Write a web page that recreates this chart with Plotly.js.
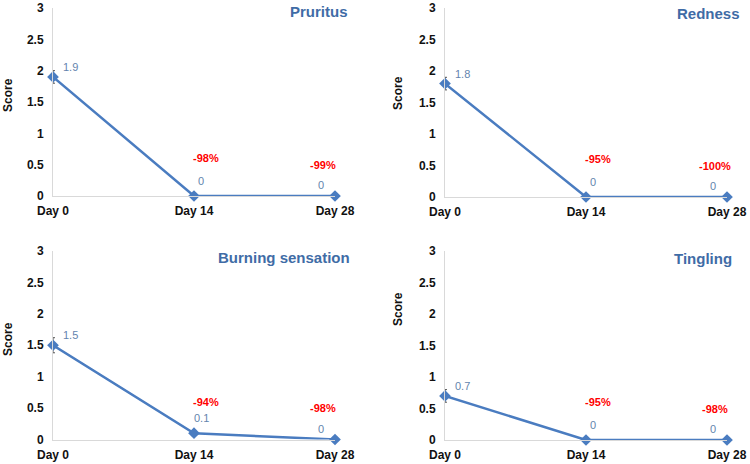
<!DOCTYPE html>
<html><head><meta charset="utf-8">
<script src="https://cdn.plot.ly/plotly-3.0.1.min.js"></script>
<style>html,body{margin:0;padding:0;background:#fff}#c{width:750px;height:464px}</style>
</head><body><div id="c"></div>
<script>
const days = ['Day 0', 'Day 14', 'Day 28'];
const symptoms = ['Pruritus', 'Redness', 'Burning sensation', 'Tingling'];
const pruritus = [1.9, 0, 0];
const redness = [1.8, 0, 0];
const burning = [1.5, 0.1, 0];
const tingling = [0.7, 0, 0];
const errPruritus = [0.1, 0, 0];
const errRedness = [0.1, 0, 0];
const errBurning = [0.12, 0, 0];
const errTingling = [0.1, 0, 0];
const pctPruritus = ['-98%', '-99%'];
const pctRedness = ['-95%', '-100%'];
const pctBurning = ['-94%', '-98%'];
const pctTingling = ['-95%', '-98%'];
const pctY = [0.6, 0.5];
const yTicks = [0, 0.5, 1, 1.5, 2, 2.5, 3];

const series = [pruritus, redness, burning, tingling];
const errs = [errPruritus, errRedness, errBurning, errTingling];
const pcts = [pctPruritus, pctRedness, pctBurning, pctTingling];

const LINE = '#4A7CC0', TITLE = '#3F6CA6', LBL = '#6384AE', RED = '#FF0000';
const FONT = 'Liberation Sans, Arial, sans-serif';

const xDom = [[53/750, 335/750], [445/750, 727/750], [53/750, 335/750], [445/750, 727/750]];
const yDom = [[1-196/464, 1-8/464], [1-197/464, 1-8/464], [1-439.5/464, 1-251/464], [1-440/464, 1-251/464]];
const titlePos = [[350/750, 1-12/464], [742/750, 1-13/464], [352/750, 1-257/464], [734/750, 1-258/464]];
const scorePos = [[8/750, 1-95/464], [398/750, 1-93/464], [8/750, 1-339/464], [398/750, 1-309/464]];
const lblShift = [[17, 10], [7, 15], [-14, 11]];
const pctShift = [12, -12];

const data = [], annotations = [];
const layout = {
  width: 750, height: 464, margin: {l: 0, r: 0, t: 0, b: 0},
  paper_bgcolor: '#fff', plot_bgcolor: '#fff', showlegend: false,
  font: {family: FONT}
};

series.forEach((vals, i) => {
  const n = i + 1, sx = n === 1 ? '' : n;
  const xa = 'x' + sx, ya = 'y' + sx;
  data.push({
    type: 'scatter', mode: 'lines+markers', x: days, y: vals,
    xaxis: xa, yaxis: ya,
    error_y: {type: 'data', array: errs[i], visible: true, color: '#555', thickness: 1, width: 2},
    line: {color: LINE, width: 2.5},
    marker: {symbol: 'diamond', size: 9, color: LINE},
    hoverinfo: 'skip', cliponaxis: false
  });
  layout['xaxis' + sx] = {
    domain: xDom[i], anchor: ya, type: 'category', range: [0, 2],
    showgrid: false, zeroline: false, showline: true, linecolor: '#D9D9D9', linewidth: 1,
    ticks: '', tickfont: {size: 12, color: '#111', family: FONT, weight: 'bold'}, ticklabelstandoff: 4,
    fixedrange: true
  };
  layout['yaxis' + sx] = {
    domain: yDom[i], anchor: xa, range: [0, 3], tickvals: yTicks, ticktext: yTicks.map(String),
    showgrid: false, zeroline: false, showline: true, linecolor: '#D9D9D9', linewidth: 1,
    ticks: '', tickfont: {size: 12, color: '#111', family: FONT, weight: 'bold'}, ticklabelstandoff: 6,
    fixedrange: true
  };
  vals.forEach((v, j) => {
    annotations.push({
      xref: xa, yref: ya, x: days[j], y: v, text: String(v), showarrow: false,
      xshift: lblShift[j][0], yshift: lblShift[j][1],
      font: {size: 11, color: LBL, family: FONT}
    });
  });
  pcts[i].forEach((p, k) => {
    annotations.push({
      xref: xa, yref: ya, x: days[k + 1], y: pctY[k], text: p, showarrow: false,
      xshift: pctShift[k], font: {size: 11, color: RED, family: FONT, weight: 'bold'}
    });
  });
  annotations.push({
    xref: 'paper', yref: 'paper', x: titlePos[i][0], y: titlePos[i][1],
    xanchor: 'right', yanchor: 'middle', text: symptoms[i], showarrow: false,
    font: {size: 15, color: TITLE, family: FONT, weight: 'bold'}
  });
  annotations.push({
    xref: 'paper', yref: 'paper', x: scorePos[i][0], y: scorePos[i][1],
    xanchor: 'center', yanchor: 'middle', text: 'Score', textangle: -90, showarrow: false,
    font: {size: 12, color: '#111', family: FONT, weight: 'bold'}
  });
});
layout.annotations = annotations;
Plotly.newPlot('c', data, layout, {staticPlot: true, displayModeBar: false});
</script></body></html>
